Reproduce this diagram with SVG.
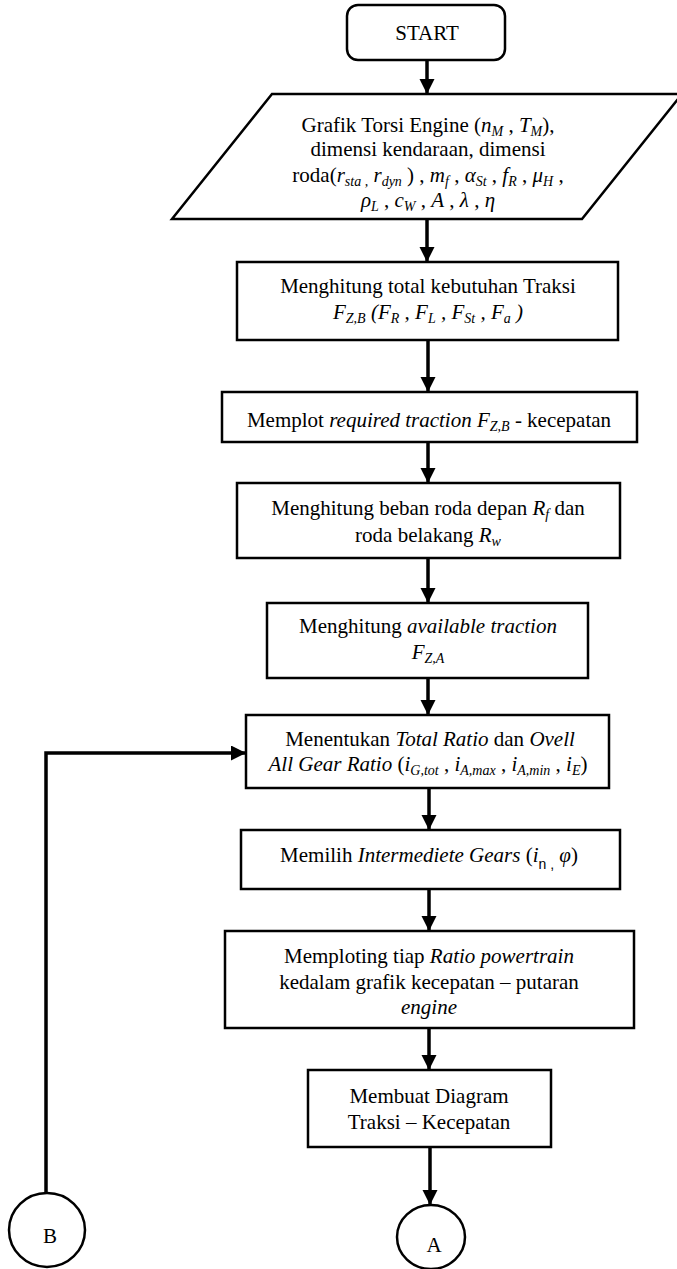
<svg xmlns="http://www.w3.org/2000/svg" width="677" height="1269" viewBox="0 0 677 1269">
<style>
.shape{fill:#fff;stroke:#000;stroke-width:2.5}
.conn{fill:none;stroke:#000;stroke-width:3.5}
text{font-family:"Liberation Serif","Times New Roman",serif;font-size:21px;fill:#000;text-anchor:middle}
.i{font-style:italic}
.s{font-size:14px;font-style:italic}
.ss{font-size:14px;font-family:"Liberation Sans",Arial,sans-serif}
</style>
<defs>
<marker id="ah" markerUnits="userSpaceOnUse" markerWidth="16" markerHeight="16" refX="15" refY="7.5" orient="auto">
<path d="M0,0 L15,7.5 L0,15 z" fill="#000"/>
</marker>
</defs>
<rect width="677" height="1269" fill="#fff"/>
<g id="connectors">
<line class="conn" x1="427" y1="60" x2="427" y2="94" marker-end="url(#ah)"/>
<line class="conn" x1="427" y1="219" x2="427" y2="262" marker-end="url(#ah)"/>
<line class="conn" x1="428" y1="340" x2="428" y2="392" marker-end="url(#ah)"/>
<line class="conn" x1="428" y1="442" x2="428" y2="483" marker-end="url(#ah)"/>
<line class="conn" x1="428" y1="558" x2="428" y2="603" marker-end="url(#ah)"/>
<line class="conn" x1="428" y1="678" x2="428" y2="715" marker-end="url(#ah)"/>
<line class="conn" x1="429" y1="788" x2="429" y2="830" marker-end="url(#ah)"/>
<line class="conn" x1="429" y1="889" x2="429" y2="931" marker-end="url(#ah)"/>
<line class="conn" x1="429" y1="1028" x2="429" y2="1070" marker-end="url(#ah)"/>
<line class="conn" x1="430" y1="1147" x2="430" y2="1205" marker-end="url(#ah)"/>
<polyline class="conn" points="46,1193 46,753 246,753" marker-end="url(#ah)"/>
</g>
<g id="start">
<rect class="shape" x="347" y="5" width="158" height="55" rx="11"/>
<text x="427" y="40">START</text>
</g>
<g id="input">
<polygon class="shape" points="272,94 682,94 582,219 172,219"/>
<text x="428" y="132">Grafik Torsi Engine (<tspan class="i">n</tspan><tspan class="s" dy="4">M</tspan><tspan dy="-4"> , </tspan><tspan class="i">T</tspan><tspan class="s" dy="4">M</tspan><tspan dy="-4">),</tspan></text>
<text x="428" y="156">dimensi kendaraan, dimensi</text>
<text x="428" y="182">roda(<tspan class="i">r</tspan><tspan class="s" dy="4">sta ,</tspan><tspan class="i" dy="-4"> r</tspan><tspan class="s" dy="4">dyn</tspan><tspan dy="-4"> ) , </tspan><tspan class="i">m</tspan><tspan class="s" dy="4">f</tspan><tspan dy="-4"> , </tspan><tspan class="i">α</tspan><tspan class="s" dy="4">St</tspan><tspan dy="-4"> , </tspan><tspan class="i">f</tspan><tspan class="s" dy="4">R</tspan><tspan dy="-4"> , </tspan><tspan class="i">μ</tspan><tspan class="s" dy="4">H</tspan><tspan dy="-4"> ,</tspan></text>
<text x="428" y="207"><tspan class="i">ρ</tspan><tspan class="s" dy="4">L</tspan><tspan dy="-4"> , </tspan><tspan class="i">c</tspan><tspan class="s" dy="4">W</tspan><tspan dy="-4"> , </tspan><tspan class="i">A</tspan> , <tspan class="i">λ</tspan> , <tspan class="i">η</tspan></text>
</g>
<g id="traksi-total">
<rect class="shape" x="237" y="262" width="381" height="78"/>
<text x="428" y="293">Menghitung total kebutuhan Traksi</text>
<text x="428" y="319"><tspan class="i">F</tspan><tspan class="s" dy="4">Z,B</tspan><tspan class="i" dy="-4"> (F</tspan><tspan class="s" dy="4">R</tspan><tspan class="i" dy="-4"> ,  F</tspan><tspan class="s" dy="4">L</tspan><tspan class="i" dy="-4"> ,  F</tspan><tspan class="s" dy="4">St</tspan><tspan class="i" dy="-4"> , F</tspan><tspan class="s" dy="4">a</tspan><tspan class="i" dy="-4"> )</tspan></text>
</g>
<g id="plot-required">
<rect class="shape" x="222" y="392" width="415" height="50"/>
<text x="429" y="427">Memplot <tspan class="i">required traction F</tspan><tspan class="s" dy="4">Z,B</tspan><tspan dy="-4"> - kecepatan</tspan></text>
</g>
<g id="beban-roda">
<rect class="shape" x="237" y="483" width="383" height="75"/>
<text x="428" y="515">Menghitung beban roda depan <tspan class="i">R</tspan><tspan class="s" dy="4">f</tspan><tspan dy="-4"> dan</tspan></text>
<text x="428" y="542">roda belakang <tspan class="i">R</tspan><tspan class="s" dy="4">w</tspan></text>
</g>
<g id="available">
<rect class="shape" x="267" y="603" width="321" height="75"/>
<text x="428" y="633">Menghitung <tspan class="i">available traction</tspan></text>
<text x="428" y="659"><tspan class="i">F</tspan><tspan class="s" dy="4">Z,A</tspan></text>
</g>
<g id="total-ratio">
<rect class="shape" x="246" y="715" width="363" height="73"/>
<text x="430" y="746">Menentukan <tspan class="i">Total Ratio</tspan> dan <tspan class="i">Ovell</tspan></text>
<text x="428" y="771"><tspan class="i">All Gear Ratio</tspan> (<tspan class="i">i</tspan><tspan class="s" dy="4">G,tot</tspan><tspan dy="-4"> , </tspan><tspan class="i">i</tspan><tspan class="s" dy="4">A,max</tspan><tspan dy="-4"> , </tspan><tspan class="i">i</tspan><tspan class="s" dy="4">A,min</tspan><tspan dy="-4"> , </tspan><tspan class="i">i</tspan><tspan class="s" dy="4">E</tspan><tspan dy="-4">)</tspan></text>
</g>
<g id="intermediete">
<rect class="shape" x="241" y="830" width="379" height="59"/>
<text x="429" y="862">Memilih <tspan class="i">Intermediete Gears</tspan> (<tspan class="i">i</tspan><tspan class="ss" dy="7">n ,</tspan><tspan class="i" dy="-7"> φ</tspan>)</text>
</g>
<g id="memploting">
<rect class="shape" x="225" y="931" width="409" height="97"/>
<text x="429" y="963">Memploting tiap <tspan class="i">Ratio powertrain</tspan></text>
<text x="429" y="989">kedalam grafik kecepatan – putaran</text>
<text x="429" y="1014" class="i">engine</text>
</g>
<g id="diagram">
<rect class="shape" x="308" y="1070" width="243" height="77"/>
<text x="429" y="1103">Membuat Diagram</text>
<text x="429" y="1129">Traksi – Kecepatan</text>
</g>
<g id="connector-a">
<ellipse class="shape" cx="431" cy="1237" rx="34" ry="32"/>
<text x="434" y="1252">A</text>
</g>
<g id="connector-b">
<ellipse class="shape" cx="47" cy="1230" rx="38" ry="37"/>
<text x="50" y="1243">B</text>
</g>
</svg>
